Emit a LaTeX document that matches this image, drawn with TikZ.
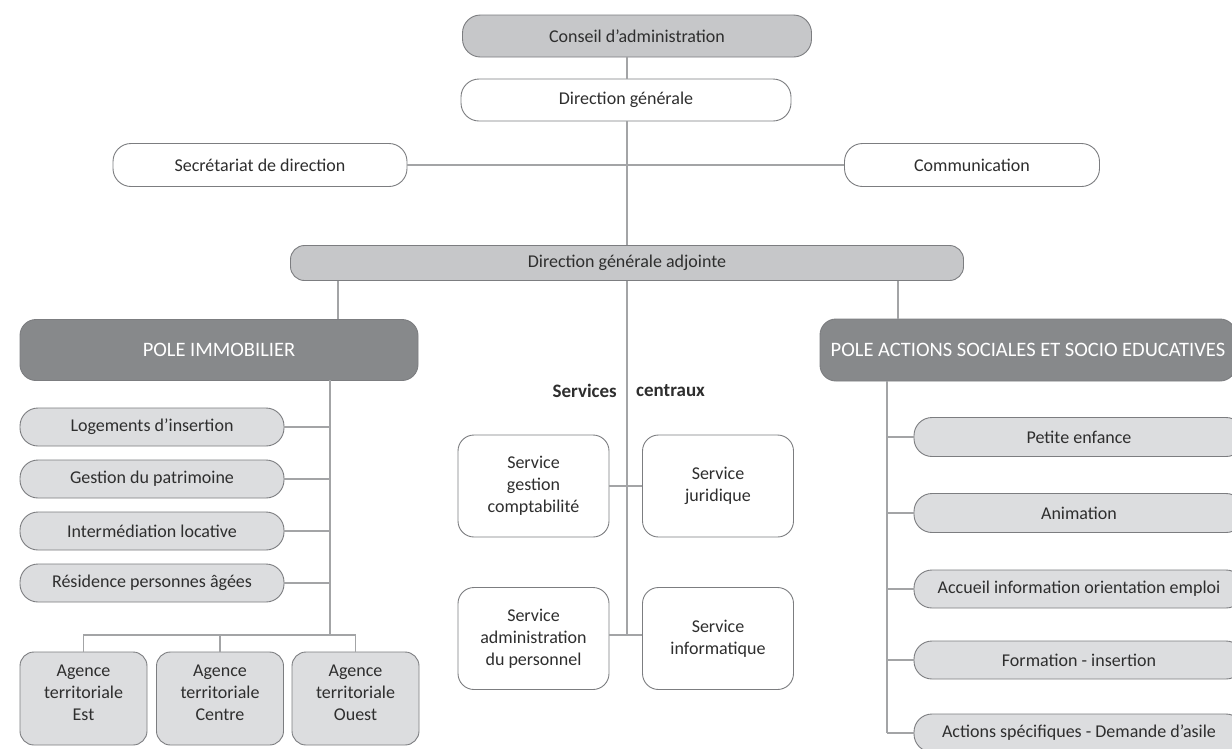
\documentclass[tikz,border=0pt]{standalone}
\usepackage{fontspec}
\setmainfont{Carlito}
\definecolor{lightbox}{HTML}{DCDDDF}
\definecolor{midbox}{HTML}{C6C7C9}
\definecolor{darkbox}{HTML}{87898B}
\definecolor{edge}{HTML}{7C7D80}
\definecolor{wire}{HTML}{A3A4A6}
\definecolor{ink}{HTML}{2E2E2E}
\begin{document}
\begin{tikzpicture}[x=1pt,y=-1pt,
  base/.style={draw=edge,line width=0.9pt,text=ink,align=center,inner sep=0pt,font=\fontsize{18}{22}\selectfont},
  pill/.style={base,rounded corners=18pt},
  whitepill/.style={pill,fill=white},
  greypill/.style={pill,fill=lightbox},
  midpill/.style={pill,fill=midbox},
  polebox/.style={base,fill=darkbox,text=white,rounded corners=16pt,font=\fontsize{20.5}{24}\selectfont},
  agbox/.style={base,fill=lightbox,rounded corners=14pt,minimum width=127pt,minimum height=93pt},
  servbox/.style={base,fill=white,rounded corners=16pt,minimum width=151pt,minimum height=102pt},
  conn/.style={draw=wire,line width=1.1pt},
  lbl/.style={font=\bfseries\fontsize{19}{22}\selectfont,text=ink,inner sep=0pt}]
\useasboundingbox (0,0) rectangle (1232,748);
\fill[white] (0,0) rectangle (1232,748);

% top
\node[midpill,minimum width=349pt,minimum height=42pt] (ca) at (637,36) {Conseil d’administration};
\node[whitepill,minimum width=330pt,minimum height=42pt] (dg) at (626,100) {Direction générale};
\node[whitepill,minimum width=294pt,minimum height=43pt] (sec) at (260,165) {Secrétariat de direction};
\node[whitepill,minimum width=255pt,minimum height=43pt] (com) at (972,165) {Communication};
\node[midpill,minimum width=673pt,minimum height=35pt,rounded corners=14pt] (dga) at (627,263) {Direction générale adjointe};

\coordinate (topx) at (627,0);
\draw[conn] (ca.south -| topx) -- (dg.north -| topx);
\draw[conn] (dg.south -| topx) -- (dga.north -| topx);
\draw[conn] (sec.east) -- (com.west);

% poles
\node[polebox,minimum width=398pt,minimum height=61pt] (pi) at (219,350) {POLE IMMOBILIER};
\node[polebox,minimum width=416pt,minimum height=62pt] (pas) at (1028,350) {};
\node[text=white,font=\fontsize{20.5}{24}\selectfont,inner sep=0pt] (pastxt) at (1028,350) {POLE ACTIONS SOCIALES ET SOCIO EDUCATIVES};

\coordinate (dgaL) at (338,0);
\coordinate (dgaR) at (898,0);
\draw[conn] (dga.south -| dgaL) -- (pi.north -| dgaL);
\draw[conn] (dga.south -| dgaR) -- (pas.north -| dgaR);

% left pole
\node[greypill,minimum width=264pt,minimum height=38pt] (log) at (152,427) {Logements d’insertion};
\node[greypill,minimum width=264pt,minimum height=38pt] (gp) at (152,479) {Gestion du patrimoine};
\node[greypill,minimum width=264pt,minimum height=38pt] (il) at (152,531) {Intermédiation locative};
\node[greypill,minimum width=264pt,minimum height=38pt] (rpa) at (152,583) {Résidence personnes âgées};
\node[agbox] (est) at (83.5,698.5) {Agence\\territoriale\\Est\\[-10pt]\mbox{}};
\node[agbox] (cen) at (220,698.5) {Agence\\territoriale\\Centre\\[-10pt]\mbox{}};
\node[agbox] (oue) at (355.5,698.5) {Agence\\territoriale\\Ouest\\[-10pt]\mbox{}};

\coordinate (lsTop) at (330,380);
\coordinate (lsBot) at (330,635);
\draw[conn] (lsTop) -- (lsBot);
\foreach \n in {log,gp,il,rpa}{\draw[conn] (\n.east) -- (\n.east -| lsTop);}
\draw[conn] (est.north) -- (est.north |- lsBot) -- (oue.north |- lsBot) -- (oue.north);
\draw[conn] (cen.north) -- (cen.north |- lsBot);

% services centraux
\node[lbl,anchor=east] (scA) at (617,391) {Services};
\node[lbl,anchor=west] (scB) at (636,391) {centraux};
\node[servbox] (sgc) at (533.5,486) {Service\\gestion\\comptabilité};
\node[servbox] (sj) at (718,486) {Service\\juridique};
\node[servbox] (sap) at (533.5,638.5) {Service\\administration\\du personnel};
\node[servbox] (si) at (718,638.5) {Service\\informatique};
\coordinate (csBot) at (627,635);
\draw[conn] (dga.south -| topx) -- (csBot);
\draw[conn] (sgc.east) -- (sj.west);
\draw[conn] (sap.east |- csBot) -- (si.west |- csBot);

% right pole
\node[greypill,minimum width=330pt,minimum height=39pt] (pe) at (1079,437) {Petite enfance};
\node[greypill,minimum width=330pt,minimum height=39pt] (an) at (1079,513) {Animation};
\node[greypill,minimum width=330pt,minimum height=38pt] (ac) at (1079,589) {Accueil information orientation emploi};
\node[greypill,minimum width=330pt,minimum height=38pt] (fi) at (1079,660) {Formation - insertion};
\node[greypill,minimum width=330pt,minimum height=38pt] (asp) at (1079,733) {Actions spécifiques - Demande d’asile};
\coordinate (rsTop) at (887,381);
\draw[conn] (rsTop) -- (rsTop |- asp.west);
\foreach \n in {pe,an,ac,fi,asp}{\draw[conn] (\n.west) -- (\n.west -| rsTop);}
\end{tikzpicture}
\end{document}
